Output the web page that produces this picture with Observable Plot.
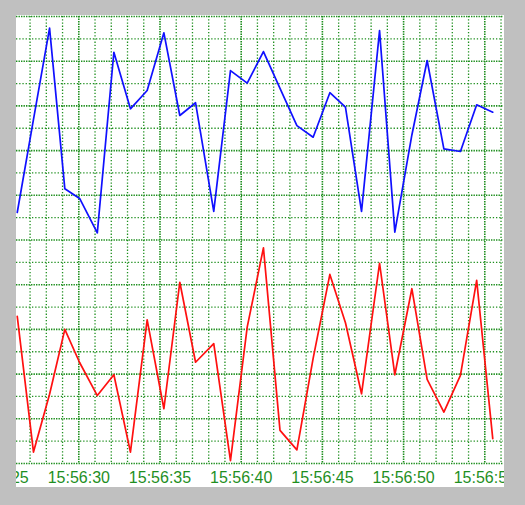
<!DOCTYPE html>
<html>
<head>
<meta charset="utf-8">
<script src="https://cdn.jsdelivr.net/npm/d3@7"></script>
<script src="https://cdn.jsdelivr.net/npm/@observablehq/plot@0.6"></script>
<style>
  html, body { margin: 0; padding: 0; background: #c0c0c0; width: 525px; height: 505px; overflow: hidden; }
  #chart { position: absolute; left: 16px; top: 15px; width: 488px; height: 472px; background: #ffffff; }
  #chart svg { overflow: hidden; display: block; }
</style>
</head>
<body>
<div id="chart"></div>
<script>
// Sample times, seconds after 15:56:00
const seconds = [26.21, 27.21, 28.20, 29.14, 30.05, 31.14, 32.16, 33.18, 34.21, 35.24,
                 36.22, 37.19, 38.31, 39.34, 40.37, 41.37, 42.39, 43.43, 44.43, 45.46,
                 46.42, 47.41, 48.52, 49.46, 50.51, 51.45, 52.48, 53.50, 54.50, 55.49];
const blueValues = [11.23, 15.4, 19.48, 12.29, 11.86, 10.32, 18.40, 15.87, 16.69, 19.27,
                    15.57, 16.14, 11.28, 17.58, 17.02, 18.43, 16.78, 15.12, 14.60, 16.59,
                    15.94, 11.28, 19.37, 10.35, 14.7, 18.03, 14.08, 13.96, 16.05, 15.72];
const redValues = [6.58, 0.51, 3.1, 6.0, 4.52, 3.04, 3.97, 0.51, 6.43, 2.45,
                   8.11, 4.53, 5.36, 0.13, 6.10, 9.65, 1.48, 0.61, 4.7, 8.46,
                   6.3, 3.12, 8.96, 3.97, 7.82, 3.76, 2.30, 3.94, 8.19, 1.11];
const tickSeconds = [25, 30, 35, 40, 45, 50, 55];
const minorGridSeconds = [27, 28, 29, 31, 32, 33, 34, 36, 37, 38, 39, 41, 42, 43, 44, 46, 47, 48, 49, 51, 52, 53, 54, 56];
const majorGridSeconds = [30, 35, 40, 45, 50, 55];
const minorGridValues = [1, 3, 5, 7, 9, 11, 13, 15, 17, 19];
const majorGridValues = [0, 2, 4, 6, 8, 10, 12, 14, 16, 18, 20];
const xDomainSeconds = [26.164, 56.152];
const yDomain = [0, 20];

const base = Date.UTC(2024, 0, 1, 15, 56, 0);
const toDate = s => new Date(base + s * 1000);

const blue = seconds.map((s, i) => ({t: toDate(s), v: blueValues[i]}));
const red = seconds.map((s, i) => ({t: toDate(s), v: redValues[i]}));
const green = "#1f8f1f";

const chart = Plot.plot({
  width: 488,
  height: 472,
  marginLeft: 0,
  marginRight: 1,
  marginTop: 1,
  marginBottom: 24,
  style: {background: "white", fontFamily: "'Liberation Sans', Arial, sans-serif", fontSize: "16px", overflow: "hidden"},
  x: {type: "utc", domain: xDomainSeconds.map(toDate), axis: null},
  y: {domain: yDomain, axis: null},
  marks: [
    Plot.ruleX(minorGridSeconds, {x: d => toDate(d), stroke: green, strokeDasharray: "1.3,1.9", strokeWidth: 1.3}),
    Plot.ruleX(majorGridSeconds, {x: d => toDate(d), stroke: green, strokeDasharray: "1.4,1.1", strokeWidth: 1.6}),
    Plot.ruleY(minorGridValues, {y: d => d, stroke: green, strokeDasharray: "1.3,1.9", strokeWidth: 1.3}),
    Plot.ruleY(majorGridValues, {y: d => d, stroke: green, strokeDasharray: "1.4,1.1", strokeWidth: 1.6}),
    Plot.line(blue, {x: "t", y: "v", stroke: "#1010ff", strokeWidth: 1.7}),
    Plot.line(red, {x: "t", y: "v", stroke: "#ff1010", strokeWidth: 1.7}),
    Plot.axisX(tickSeconds.map(toDate), {
      tickSize: 0,
      tickPadding: 8,
      color: "#1f8f1f",
      fontSize: 16,
      label: null,
      tickFormat: d3.utcFormat("%H:%M:%S")
    })
  ]
});
document.getElementById("chart").appendChild(chart);
</script>
</body>
</html>
